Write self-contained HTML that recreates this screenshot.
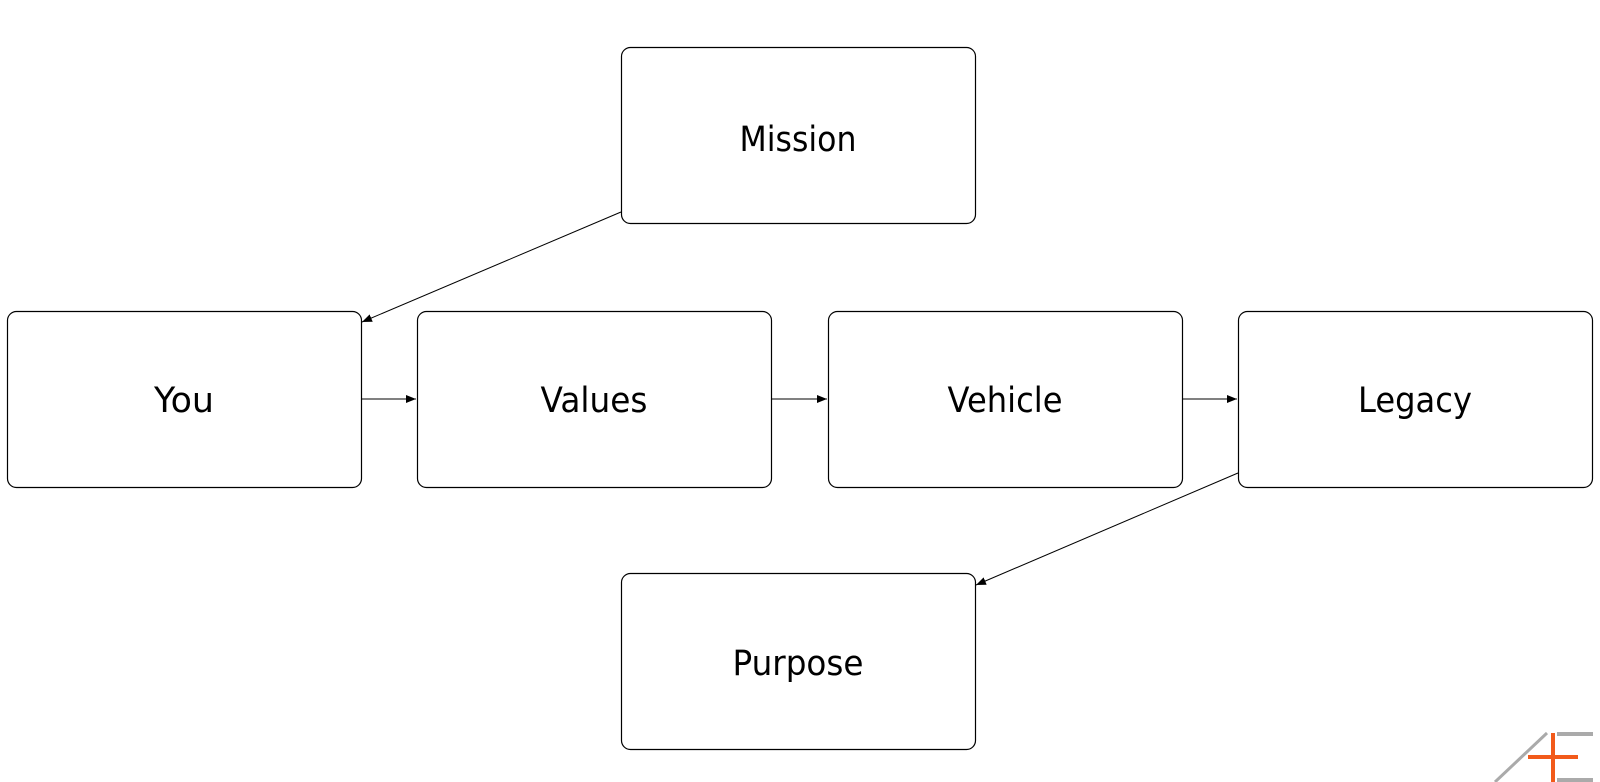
<!DOCTYPE html>
<html><head><meta charset="utf-8"><style>html,body{margin:0;padding:0;background:#fff}svg{display:block}</style></head>
<body>
<svg width="1600" height="782" viewBox="0 0 1600 782" xmlns="http://www.w3.org/2000/svg">
<defs><marker id="a" markerWidth="10" markerHeight="8" refX="10" refY="4" orient="auto" markerUnits="userSpaceOnUse"><path d="M0,0 L10,4 L0,8 z" fill="#000"/></marker></defs>
<g fill="#fff" stroke="#000" stroke-width="1.2">
<rect x="621.5" y="47.5" width="354" height="176" rx="9"/>
<rect x="7.5" y="311.5" width="354" height="176" rx="9"/>
<rect x="417.5" y="311.5" width="354" height="176" rx="9"/>
<rect x="828.5" y="311.5" width="354" height="176" rx="9"/>
<rect x="1238.5" y="311.5" width="354" height="176" rx="9"/>
<rect x="621.5" y="573.5" width="354" height="176" rx="9"/>
</g>
<g stroke="#000" stroke-width="1" marker-end="url(#a)">
<line x1="621" y1="212" x2="362" y2="322"/>
<line x1="362" y1="399" x2="416" y2="399"/>
<line x1="772" y1="399" x2="827" y2="399"/>
<line x1="1183" y1="399" x2="1237" y2="399"/>
<line x1="1238" y1="473" x2="976" y2="585"/>
</g>
<g font-family="'DejaVu Sans','Liberation Sans',sans-serif" font-size="35" text-anchor="middle" fill="#000">
<text x="798" y="151" textLength="117" lengthAdjust="spacingAndGlyphs">Mission</text>
<text x="184" y="412" textLength="60" lengthAdjust="spacingAndGlyphs">You</text>
<text x="594" y="412" textLength="107" lengthAdjust="spacingAndGlyphs">Values</text>
<text x="1005" y="412" textLength="115" lengthAdjust="spacingAndGlyphs">Vehicle</text>
<text x="1415" y="412" textLength="114" lengthAdjust="spacingAndGlyphs">Legacy</text>
<text x="798" y="675" textLength="131" lengthAdjust="spacingAndGlyphs">Purpose</text>
</g>
<g>
<line x1="1547" y1="733" x2="1495" y2="782" stroke="#aaa" stroke-width="3"/>
<rect x="1557" y="732" width="36" height="4" fill="#aaa"/>
<rect x="1557" y="778" width="36" height="4" fill="#aaa"/>
<rect x="1551" y="733" width="4" height="49" fill="#f25a1a"/>
<rect x="1528" y="755" width="50" height="4" fill="#f25a1a"/>
</g>
</svg>
</body></html>
